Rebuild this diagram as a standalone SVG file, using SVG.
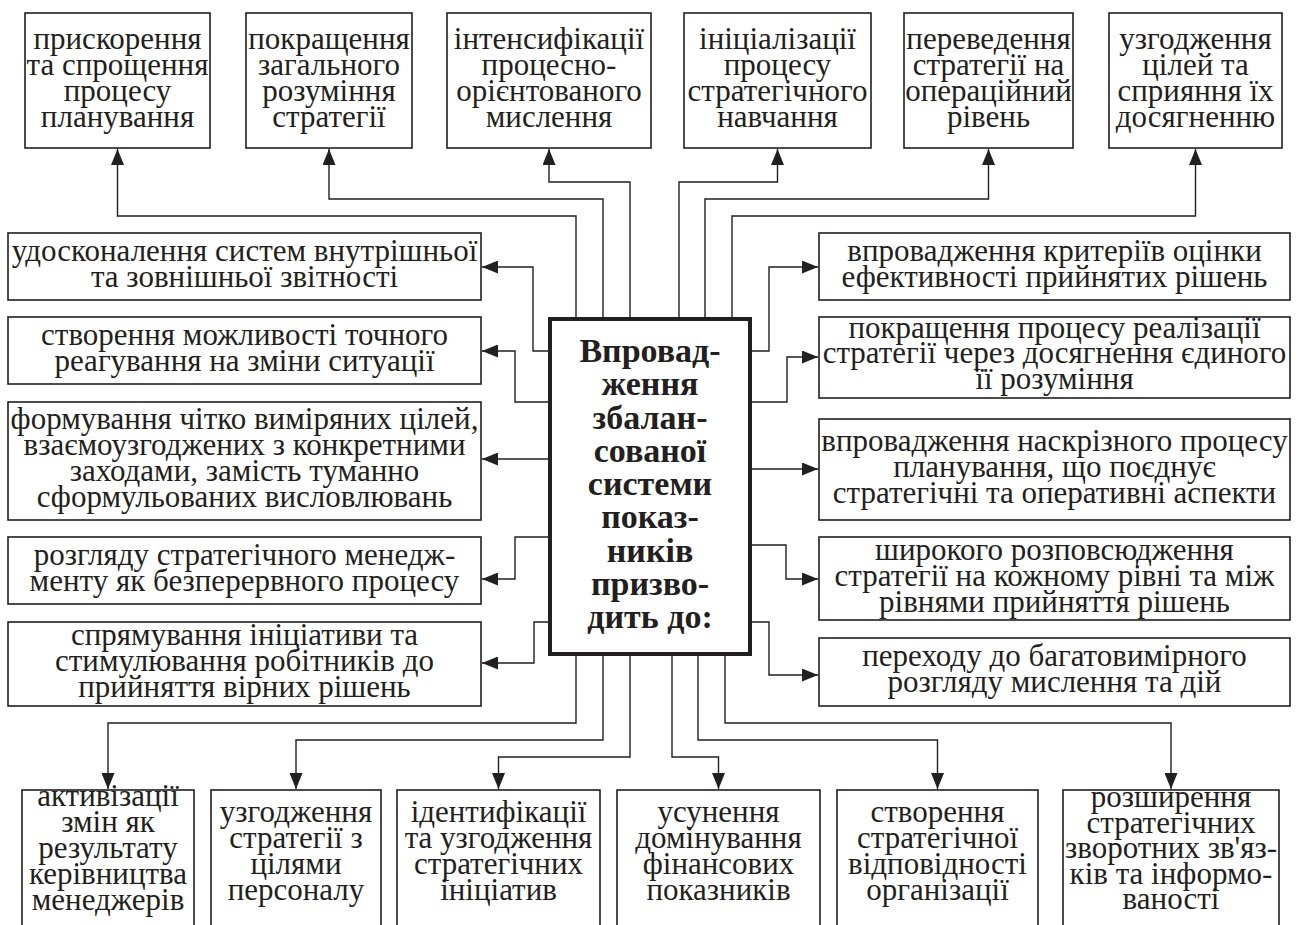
<svg xmlns="http://www.w3.org/2000/svg" width="1301" height="925" viewBox="0 0 1301 925">
<style>
.box{fill:#fff;stroke:#231f20;stroke-width:1.6}
.main{fill:#fff;stroke:#231f20;stroke-width:4}
.t{font-family:"Liberation Serif","Times New Roman",serif;font-size:31px;fill:#231f20;text-anchor:middle}
.b{font-family:"Liberation Serif","Times New Roman",serif;font-size:34px;font-weight:bold;fill:#231f20;text-anchor:middle}
.c{fill:none;stroke:#231f20;stroke-width:1.4}
</style>
<defs>
<marker id="ah" viewBox="0 0 16 13" refX="16" refY="6.5" markerWidth="16" markerHeight="13" markerUnits="userSpaceOnUse" orient="auto">
<path d="M0,0 L16,6.5 L0,13 z" fill="#231f20"/>
</marker>
</defs>
<rect width="1301" height="925" fill="#fff"/>
<g id="connectors">
<path class="c" marker-end="url(#ah)" d="M576,317 V216 H117.5 V149"/>
<path class="c" marker-end="url(#ah)" d="M603,317 V199 H329 V149"/>
<path class="c" marker-end="url(#ah)" d="M630,317 V182 H549 V149"/>
<path class="c" marker-end="url(#ah)" d="M679,317 V182 H777.5 V149"/>
<path class="c" marker-end="url(#ah)" d="M705,317 V199 H988.5 V149"/>
<path class="c" marker-end="url(#ah)" d="M732,317 V216 H1195.5 V149"/>
<path class="c" marker-end="url(#ah)" d="M548,351 H533 V267 H482"/>
<path class="c" marker-end="url(#ah)" d="M548,402 H515 V351 H482"/>
<path class="c" marker-end="url(#ah)" d="M548,459 H482"/>
<path class="c" marker-end="url(#ah)" d="M548,537 H515 V579 H482"/>
<path class="c" marker-end="url(#ah)" d="M548,622 H534 V663 H482"/>
<path class="c" marker-end="url(#ah)" d="M752,351 H769 V267 H818"/>
<path class="c" marker-end="url(#ah)" d="M752,402 H787 V357 H818"/>
<path class="c" marker-end="url(#ah)" d="M752,469 H818"/>
<path class="c" marker-end="url(#ah)" d="M752,545 H786 V579 H818"/>
<path class="c" marker-end="url(#ah)" d="M752,622 H769 V675 H818"/>
<path class="c" marker-end="url(#ah)" d="M576,656 V723 H108 V789"/>
<path class="c" marker-end="url(#ah)" d="M603,656 V740 H296 V789"/>
<path class="c" marker-end="url(#ah)" d="M630,656 V757 H498.5 V789"/>
<path class="c" marker-end="url(#ah)" d="M672,656 V757 H718.5 V789"/>
<path class="c" marker-end="url(#ah)" d="M698,656 V740 H937.5 V789"/>
<path class="c" marker-end="url(#ah)" d="M725,656 V723 H1171 V789"/>
</g>
<g id="center">
<rect class="main" x="550" y="319" width="200" height="335"/>
<text class="b" x="650" y="362">Впровад-<tspan x="650" dy="33.25">ження</tspan><tspan x="650" dy="33.25">збалан-</tspan><tspan x="650" dy="33.25">сованої</tspan><tspan x="650" dy="33.25">системи</tspan><tspan x="650" dy="33.25">показ-</tspan><tspan x="650" dy="33.25">ників</tspan><tspan x="650" dy="33.25">призво-</tspan><tspan x="650" dy="33.25">дить до:</tspan></text>
</g>
<g id="t1"><rect class="box" x="25" y="13" width="185" height="135"/>
<text class="t" x="117.5" y="48.5">прискорення<tspan x="117.5" dy="26">та спрощення</tspan><tspan x="117.5" dy="26">процесу</tspan><tspan x="117.5" dy="26">планування</tspan></text></g>
<g id="t2"><rect class="box" x="246" y="13" width="166" height="135"/>
<text class="t" x="329" y="48.5">покращення<tspan x="329" dy="26">загального</tspan><tspan x="329" dy="26">розуміння</tspan><tspan x="329" dy="26">стратегії</tspan></text></g>
<g id="t3"><rect class="box" x="447" y="13" width="204" height="135"/>
<text class="t" x="549" y="48.5">інтенсифікації<tspan x="549" dy="26">процесно-</tspan><tspan x="549" dy="26">орієнтованого</tspan><tspan x="549" dy="26">мислення</tspan></text></g>
<g id="t4"><rect class="box" x="684" y="13" width="187" height="135"/>
<text class="t" x="777.5" y="48.5">ініціалізації<tspan x="777.5" dy="26">процесу</tspan><tspan x="777.5" dy="26">стратегічного</tspan><tspan x="777.5" dy="26">навчання</tspan></text></g>
<g id="t5"><rect class="box" x="904" y="13" width="169" height="135"/>
<text class="t" x="988.5" y="48.5">переведення<tspan x="988.5" dy="26">стратегії на</tspan><tspan x="988.5" dy="26">операційний</tspan><tspan x="988.5" dy="26">рівень</tspan></text></g>
<g id="t6"><rect class="box" x="1109" y="13" width="173" height="135"/>
<text class="t" x="1195.5" y="48.5">узгодження<tspan x="1195.5" dy="26">цілей та</tspan><tspan x="1195.5" dy="26">сприяння їх</tspan><tspan x="1195.5" dy="26">досягненню</tspan></text></g>
<g id="l1"><rect class="box" x="8" y="233" width="473" height="67"/>
<text class="t" x="244.5" y="260.5">удосконалення систем внутрішньої<tspan x="244.5" dy="26">та зовнішньої звітності</tspan></text></g>
<g id="l2"><rect class="box" x="8" y="317" width="473" height="67"/>
<text class="t" x="244.5" y="344.5">створення можливості точного<tspan x="244.5" dy="26">реагування на зміни ситуації</tspan></text></g>
<g id="l3"><rect class="box" x="8" y="402" width="473" height="118"/>
<text class="t" x="244.5" y="429">формування чітко виміряних цілей,<tspan x="244.5" dy="26">взаємоузгоджених з конкретними</tspan><tspan x="244.5" dy="26">заходами, замість туманно</tspan><tspan x="244.5" dy="26">сформульованих висловлювань</tspan></text></g>
<g id="l4"><rect class="box" x="8" y="537" width="473" height="67"/>
<text class="t" x="244.5" y="564.5">розгляду стратегічного менедж-<tspan x="244.5" dy="26">менту як безперервного процесу</tspan></text></g>
<g id="l5"><rect class="box" x="8" y="622" width="473" height="84"/>
<text class="t" x="244.5" y="645">спрямування ініціативи та<tspan x="244.5" dy="26">стимулювання робітників до</tspan><tspan x="244.5" dy="26">прийняття вірних рішень</tspan></text></g>
<g id="r1"><rect class="box" x="819" y="233" width="471" height="67"/>
<text class="t" x="1054.5" y="260.5">впровадження критеріїв оцінки<tspan x="1054.5" dy="26">ефективності прийнятих рішень</tspan></text></g>
<g id="r2"><rect class="box" x="819" y="317" width="471" height="81"/>
<text class="t" x="1054.5" y="337.5">покращення процесу реалізації<tspan x="1054.5" dy="25.5">стратегії через досягнення єдиного</tspan><tspan x="1054.5" dy="25.5">її розуміння</tspan></text></g>
<g id="r3"><rect class="box" x="819" y="419" width="471" height="101"/>
<text class="t" x="1054.5" y="450.5">впровадження наскрізного процесу<tspan x="1054.5" dy="26">планування, що поєднує</tspan><tspan x="1054.5" dy="26">стратегічні та оперативні аспекти</tspan></text></g>
<g id="r4"><rect class="box" x="819" y="537" width="471" height="83"/>
<text class="t" x="1054.5" y="559.5">широкого розповсюдження<tspan x="1054.5" dy="26">стратегії на кожному рівні та між</tspan><tspan x="1054.5" dy="26">рівнями прийняття рішень</tspan></text></g>
<g id="r5"><rect class="box" x="819" y="638" width="471" height="68"/>
<text class="t" x="1054.5" y="666">переходу до багатовимірного<tspan x="1054.5" dy="26">розгляду мислення та дій</tspan></text></g>
<g id="b1"><rect class="box" x="22" y="790" width="172" height="150"/>
<text class="t" x="108" y="806">активізації<tspan x="108" dy="26">змін як</tspan><tspan x="108" dy="26">результату</tspan><tspan x="108" dy="26">керівництва</tspan><tspan x="108" dy="26">менеджерів</tspan></text></g>
<g id="b2"><rect class="box" x="211" y="790" width="170" height="150"/>
<text class="t" x="296" y="822">узгодження<tspan x="296" dy="26">стратегії з</tspan><tspan x="296" dy="26">цілями</tspan><tspan x="296" dy="26">персоналу</tspan></text></g>
<g id="b3"><rect class="box" x="397" y="790" width="203" height="150"/>
<text class="t" x="498.5" y="822">ідентифікації<tspan x="498.5" dy="26">та узгодження</tspan><tspan x="498.5" dy="26">стратегічних</tspan><tspan x="498.5" dy="26">ініціатив</tspan></text></g>
<g id="b4"><rect class="box" x="617" y="790" width="203" height="150"/>
<text class="t" x="718.5" y="822">усунення<tspan x="718.5" dy="26">домінування</tspan><tspan x="718.5" dy="26">фінансових</tspan><tspan x="718.5" dy="26">показників</tspan></text></g>
<g id="b5"><rect class="box" x="837" y="790" width="201" height="150"/>
<text class="t" x="937.5" y="822">створення<tspan x="937.5" dy="26">стратегічної</tspan><tspan x="937.5" dy="26">відповідності</tspan><tspan x="937.5" dy="26">організації</tspan></text></g>
<g id="b6"><rect class="box" x="1063" y="790" width="216" height="150"/>
<text class="t" x="1171" y="807">розширення<tspan x="1171" dy="25.5">стратегічних</tspan><tspan x="1171" dy="25.5">зворотних зв'яз-</tspan><tspan x="1171" dy="25.5">ків та інформо-</tspan><tspan x="1171" dy="25.5">ваності</tspan></text></g>
</svg>
